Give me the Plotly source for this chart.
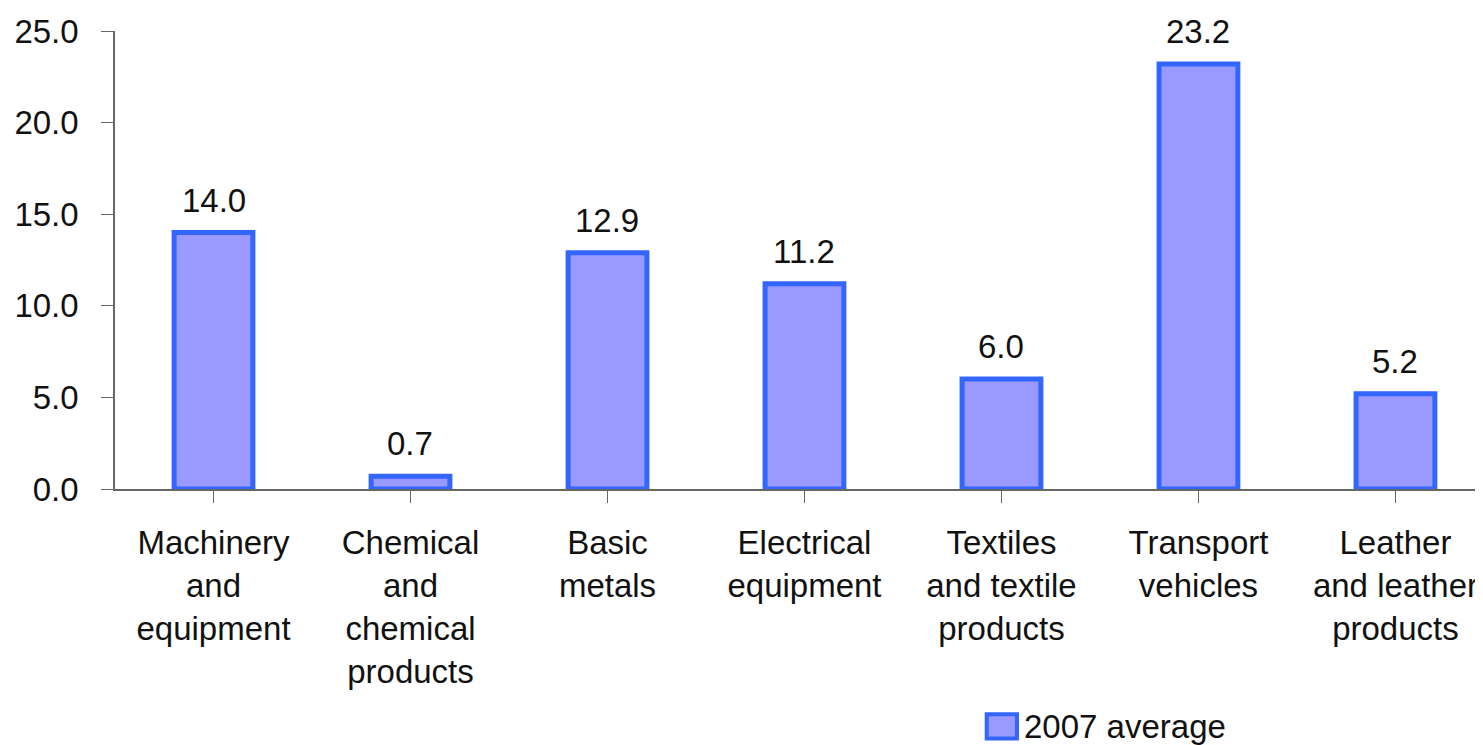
import plotly.graph_objects as go

categories = [
    "Machinery<br>and<br>equipment",
    "Chemical<br>and<br>chemical<br>products",
    "Basic<br>metals",
    "Electrical<br>equipment",
    "Textiles<br>and textile<br>products",
    "Transport<br>vehicles",
    "Leather<br>and leather<br>products",
]
values_2007 = [14.0, 0.7, 12.9, 11.2, 6.0, 23.2, 5.2]
series_name = "2007 average"
y_ticks = [0, 5, 10, 15, 20, 25]

FILL = "#9999FF"
EDGE = "#3366FF"
FONT = dict(family="Liberation Sans, Arial, sans-serif", size=33, color="#111111")

fig = go.Figure()
fig.add_trace(
    go.Bar(
        x=list(range(len(categories))),
        y=values_2007,
        width=0.4,
        marker=dict(color=FILL, line=dict(color=EDGE, width=5)),
        showlegend=False,
    )
)

# value labels sit a little above each bar
for i, v in enumerate(values_2007):
    fig.add_annotation(x=i, y=v, text=f"{v:.1f}", showarrow=False,
                       yanchor="bottom", yshift=12, font=FONT)

# legend drawn by hand so the swatch can be as large as in the original
fig.add_shape(type="rect", xref="paper", yref="paper",
              x0=0.6335, x1=0.6555, y0=-0.545, y1=-0.492,
              fillcolor=FILL, line=dict(color=EDGE, width=4))
fig.add_annotation(text=series_name, xref="paper", yref="paper",
                   x=0.6595, y=-0.518, xanchor="left", yanchor="middle",
                   showarrow=False, font=FONT)

fig.update_xaxes(
    range=[-0.5, 6.485],
    tickmode="array",
    tickvals=list(range(len(categories))),
    ticktext=categories,
    tickson="boundaries",
    ticks="outside",
    ticklen=12,
    tickcolor="#666666",
    showline=True,
    linecolor="#666666",
    linewidth=1.5,
    showgrid=False,
    zeroline=False,
    tickfont=FONT,
    tickangle=0,
    automargin=False,
    ticklabelstandoff=12,
)
fig.update_yaxes(
    range=[0, 25],
    tickvals=y_ticks,
    tickformat=".1f",
    ticks="outside",
    ticklen=12,
    tickcolor="#666666",
    showline=True,
    linecolor="#666666",
    linewidth=1.5,
    showgrid=False,
    zeroline=False,
    tickfont=FONT,
    ticklabelstandoff=16,
    automargin=False,
)

# the page keeps an 8px body margin, so margins are set 8px smaller
fig.update_layout(
    width=1483,
    height=745,
    margin=dict(l=107, r=0, t=23, b=264),
    plot_bgcolor="white",
    paper_bgcolor="white",
    font=FONT,
    showlegend=False,
)

fig.write_html("out.html")
